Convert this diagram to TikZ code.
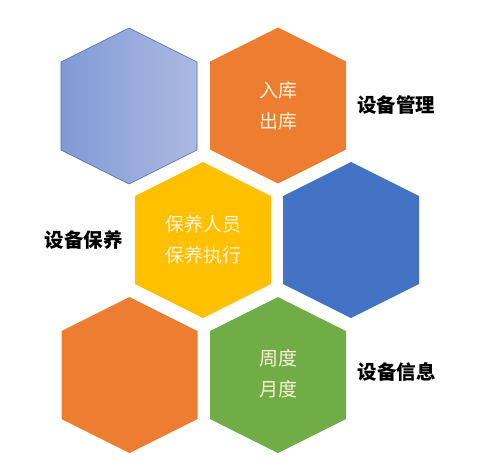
\documentclass[tikz,border=0pt]{standalone}
\usepackage{fontspec}
\usepackage{tikz}
\newfontfamily\cjk{Noto Sans CJK SC}
\definecolor{hexorange}{RGB}{237,125,49}
\definecolor{hexyellow}{RGB}{255,192,0}
\definecolor{hexblue}{RGB}{68,114,196}
\definecolor{hexgreen}{RGB}{112,173,71}
\definecolor{hexlightL}{RGB}{128,154,214}
\definecolor{hexlightR}{RGB}{172,186,226}
\definecolor{hexedge}{RGB}{72,104,170}
\definecolor{cream}{RGB}{252,242,214}
\tikzset{
  intext/.style={text=cream, align=center, font=\cjk\fontsize{19}{31}\selectfont},
  sidelabel/.style={text=black, font=\cjk\bfseries\fontsize{19.5}{24}\selectfont}
}

\begin{document}
\begin{tikzpicture}[line cap=round,line join=round,x=1pt,y=-1pt]
    \useasboundingbox (0,0) rectangle (494,463);
    % top row
    \shadedraw [left color=hexlightL, right color=hexlightR, draw=hexedge, line width=0.6pt, shift={(129,106)}]
        (0,-78)--(68,-44)--(68,44)--(0,78)--(-68,44)--(-68,-44)--cycle;
    \fill [hexorange, shift={(278,105.5)}]
        (0,-78)--(68,-44)--(68,44)--(0,78)--(-68,44)--(-68,-44)--cycle;
    % middle row
    \fill [hexyellow, shift={(203,240)}]
        (0,-78)--(68,-44)--(68,44)--(0,78)--(-68,44)--(-68,-44)--cycle;
    \fill [hexblue, shift={(351,240)}]
        (0,-78)--(68,-44)--(68,44)--(0,78)--(-68,44)--(-68,-44)--cycle;
    % bottom row
    \fill [hexorange, shift={(129.5,375)}]
        (0,-78)--(68,-44)--(68,44)--(0,78)--(-68,44)--(-68,-44)--cycle;
    \fill [hexgreen, shift={(278,375)}]
        (0,-78)--(68,-44)--(68,44)--(0,78)--(-68,44)--(-68,-44)--cycle;
    % texts
    \node[intext] (stock) at (278,105.5) {入库\\出库};
    \node[intext] (maint) at (203,239.5) {保养人员\\保养执行};
    \node[intext] (period) at (278,374) {周度\\月度};
    \node[sidelabel] (manage) at (396,105) {设备管理};
    \node[sidelabel] (upkeep) at (83.5,240) {设备保养};
    \node[sidelabel] (info) at (396.5,372) {设备信息};
\end{tikzpicture}
\end{document}
